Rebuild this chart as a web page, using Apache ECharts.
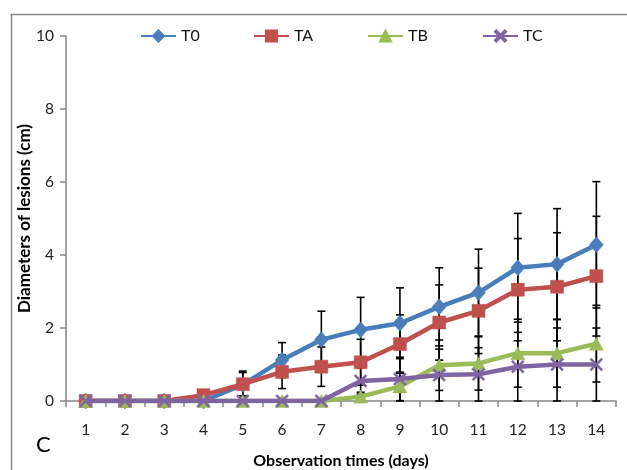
<!DOCTYPE html>
<html>
<head>
<meta charset="utf-8">
<script src="https://cdn.jsdelivr.net/npm/echarts@6/dist/echarts.min.js"></script>
<style>
html,body{margin:0;padding:0;background:#fff;}
#c{width:627px;height:470px;}
</style>
</head>
<body>
<div id="c"></div>
<script>
var days = ['1','2','3','4','5','6','7','8','9','10','11','12','13','14'];
var seriesNames = ['T0','TA','TB','TC'];
var T0 = [0,0,0,0,0.45,1.12,1.68,1.95,2.13,2.58,2.97,3.65,3.75,4.28];
var TA = [0,0,0,0.16,0.46,0.80,0.94,1.06,1.56,2.15,2.47,3.05,3.13,3.42];
var TB = [0,0,0,0,0,0,0,0.12,0.40,0.98,1.03,1.31,1.31,1.57];
var TC = [0,0,0,0,0,0,0,0.55,0.60,0.71,0.73,0.94,1.00,1.00];
var sdT0 = [0,0,0,0,0.37,0.48,0.78,0.89,0.97,1.07,1.19,1.49,1.52,1.73];
var sdTA = [0,0,0,0,0.32,0.46,0.54,0.63,0.80,1.03,1.17,1.40,1.48,1.64];
var sdTB = [0,0,0,0,0,0,0,0.12,0.39,0.69,0.73,0.93,0.93,1.05];
var sdTC = [0,0,0,0,0,0,0,0.36,0.60,0.71,0.73,0.94,1.00,1.00];
var yTicks = [0,2,4,6,8,10];

var means = [T0, TA, TB, TC];
var sds = [sdT0, sdTA, sdTB, sdTC];
var colors = ['#4A7EBB','#C0504D','#9BBB59','#8064A2'];
var symbols = ['diamond','rect','triangle','path://M0,1.2 L1.2,0 L5,3.8 L8.8,0 L10,1.2 L6.2,5 L10,8.8 L8.8,10 L5,6.2 L1.2,10 L0,8.8 L3.8,5 Z'];
var symbolSizes = [[14,16],13,[14,13],13];
var legendLefts = [140, 253, 367, 482];
var FONT = 'Lato, "Open Sans", sans-serif';

var errData = [];
for (var s = 0; s < means.length; s++) {
  for (var i = 0; i < days.length; i++) {
    if (sds[s][i] > 0) {
      errData.push([i, Math.max(0, means[s][i] - sds[s][i]), means[s][i] + sds[s][i]]);
    }
  }
}

var chart = echarts.init(document.getElementById('c'), null, {renderer:'canvas'});

var series = [];
var legends = [];
for (var k = 0; k < means.length; k++) {
  series.push({
    name: seriesNames[k],
    type: 'line',
    data: means[k],
    symbol: symbols[k],
    symbolSize: symbolSizes[k],
    showAllSymbol: true,
    z: 3 + k,
    lineStyle: {color: colors[k], width: 4.5},
    itemStyle: {color: colors[k], borderColor: colors[k], borderWidth: 0.5, opacity: 1},
    emphasis: {disabled: true},
    animation: false
  });
  legends.push({
    data: [seriesNames[k]],
    left: legendLefts[k],
    top: 28,
    padding: 0,
    itemWidth: 35,
    itemHeight: 14,
    selectedMode: false,
    textStyle: {fontFamily: FONT, fontSize: 16, color: '#111'}
  });
}
series.push({
  type: 'custom',
  name: 'err',
  z: 2,
  data: errData,
  animation: false,
  renderItem: function (params, api) {
    var x = api.value(0);
    var lo = api.coord([x, api.value(1)]);
    var hi = api.coord([x, api.value(2)]);
    var cw = 4;
    var st = {stroke: '#000', lineWidth: 1.6};
    return {
      type: 'group',
      children: [
        {type: 'line', shape: {x1: lo[0], y1: lo[1], x2: hi[0], y2: hi[1]}, style: st},
        {type: 'line', shape: {x1: hi[0]-cw, y1: hi[1], x2: hi[0]+cw, y2: hi[1]}, style: st},
        {type: 'line', shape: {x1: lo[0]-cw, y1: lo[1], x2: lo[0]+cw, y2: lo[1]}, style: st}
      ]
    };
  }
});

chart.setOption({
  backgroundColor: '#fff',
  animation: false,
  textStyle: {fontFamily: FONT},
  grid: {left: 66, right: 11, top: 36, bottom: 69, containLabel: false, outerBoundsMode: 'none'},
  legend: legends,
  xAxis: {
    type: 'category',
    data: days,
    boundaryGap: true,
    name: 'Observation times (days)',
    nameLocation: 'middle',
    nameGap: 52,
    nameMoveOverlap: false,
    nameTextStyle: {fontFamily: FONT, fontSize: 16, fontWeight: 'bold', color: '#000'},
    axisLine: {lineStyle: {color: '#868686', width: 1.5}},
    axisTick: {show: true, length: 6, lineStyle: {color: '#868686', width: 1.5}},
    axisLabel: {fontFamily: FONT, fontSize: 15.5, color: '#222', margin: 21},
    splitLine: {show: false}
  },
  yAxis: {
    type: 'value',
    min: yTicks[0],
    max: yTicks[yTicks.length-1],
    interval: yTicks[1]-yTicks[0],
    name: 'Diameters of lesions (cm)',
    nameLocation: 'middle',
    nameRotate: 90,
    nameGap: 33,
    nameMoveOverlap: false,
    nameTextStyle: {fontFamily: FONT, fontSize: 17, fontWeight: 'bold', color: '#000'},
    axisLine: {show: true, lineStyle: {color: '#868686', width: 1.5}},
    axisTick: {show: true, length: 6, lineStyle: {color: '#868686', width: 1.5}},
    axisLabel: {fontFamily: FONT, fontSize: 15.5, color: '#222', margin: 12},
    splitLine: {show: false}
  },
  graphic: [
    {type: 'rect', left: 9, top: 12, shape: {width: 700, height: 600}, style: {fill: 'none', stroke: '#868686', lineWidth: 1.5}, silent: true},
    {type: 'text', left: 36, top: 434, style: {text: 'C', font: '22px ' + FONT, fill: '#000'}}
  ],
  series: series
});
</script>
</body>
</html>
